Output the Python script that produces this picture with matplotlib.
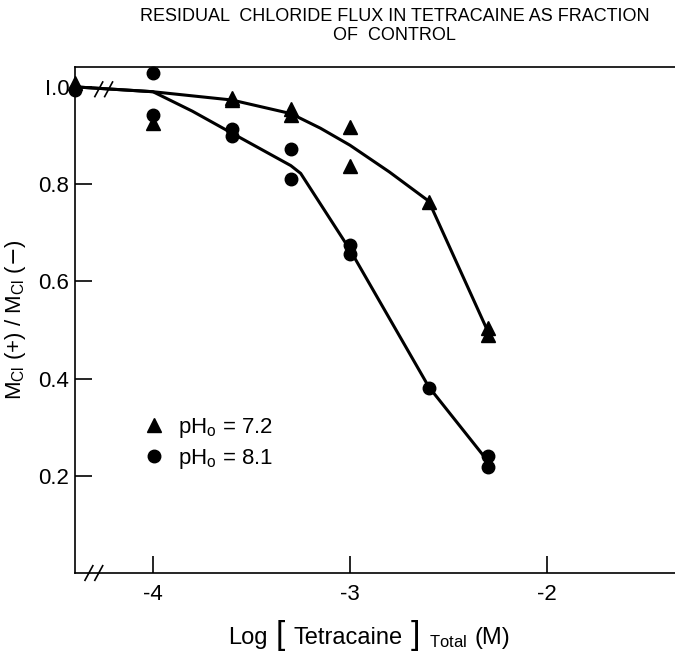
import matplotlib
matplotlib.use("Agg")
import matplotlib.pyplot as plt
from matplotlib.offsetbox import TextArea, HPacker, AnchoredOffsetbox

plt.rcParams['font.family'] = ['Liberation Sans', 'DejaVu Sans']

# measured points, log concentration vs flux fraction
tri_x = [-4.396, -4.0, -3.6, -3.6, -3.3, -3.3, -3.0, -3.0, -2.6, -2.3, -2.3]
tri_y = [1.008, 0.926, 0.978, 0.972, 0.955, 0.942, 0.918, 0.837, 0.763, 0.505, 0.489]
circ_x = [-4.396, -4.0, -4.0, -3.6, -3.6, -3.3, -3.3, -3.0, -3.0, -2.6, -2.3, -2.3]
circ_y = [0.994, 1.029, 0.942, 0.913, 0.899, 0.872, 0.810, 0.674, 0.656, 0.381, 0.241, 0.219]

# hand drawn curves through the points
tri_fit_x = [-4.396, -4.0, -3.6, -3.3, -3.15, -3.0, -2.8, -2.6, -2.3]
tri_fit_y = [1.0, 0.99, 0.973, 0.945, 0.915, 0.88, 0.825, 0.765, 0.497]
circ_fit_x = [-4.396, -4.0, -3.8, -3.6, -3.3, -3.25, -3.0, -2.6, -2.3]
circ_fit_y = [1.0, 0.99, 0.95, 0.905, 0.838, 0.822, 0.665, 0.383, 0.23]

yticks = [0.2, 0.4, 0.6, 0.8, 1.0]
ytick_labels = ["0.2", "0.4", "0.6", "0.8", "I.0"]
xticks = [-4, -3, -2]
xtick_labels = ["-4", "-3", "-2"]

fig = plt.figure(figsize=(6.75, 6.53), dpi=100)
ax = fig.add_axes([0.111, 0.1225, 0.889, 0.775])

ax.plot(tri_fit_x, tri_fit_y, color="black", lw=2.2, zorder=2)
ax.plot(circ_fit_x, circ_fit_y, color="black", lw=2.2, zorder=2)
ax.plot(tri_x, tri_y, "^", color="black", ms=10, clip_on=False, zorder=3,
        label=r"pH$_\mathregular{o}$ = 7.2")
ax.plot(circ_x, circ_y, "o", color="black", ms=9, clip_on=False, zorder=3,
        label=r"pH$_\mathregular{o}$ = 8.1")

# axis break marks
for dx in (-0.025, 0.025):
    ax.plot([-4.30 + dx - 0.02, -4.30 + dx + 0.02], [-0.015, 0.015],
            color="black", lw=1.2, clip_on=False)
    ax.plot([-4.25 + dx - 0.02, -4.25 + dx + 0.02], [0.98, 1.01],
            color="black", lw=1.2, clip_on=False)

ax.set_xlim(-4.396, -1.35)
ax.set_ylim(0.0, 1.041)
ax.spines['right'].set_visible(False)
for s in ax.spines.values():
    s.set_linewidth(1.2)

ax.set_xticks(xticks)
ax.set_xticklabels(xtick_labels)
ax.set_yticks(yticks)
ax.set_yticklabels(ytick_labels)
ax.tick_params(axis="both", direction="in", length=12, width=1.2, labelsize=16)
ax.tick_params(axis="x", pad=8)
ax.tick_params(axis="y", pad=4)

# x label with tall brackets and a lowered subscript
parts = [
    TextArea("Log", textprops=dict(fontsize=17)),
    TextArea("[", textprops=dict(fontsize=24, fontweight="light")),
    TextArea("Tetracaine", textprops=dict(fontsize=17)),
    TextArea("]", textprops=dict(fontsize=24, fontweight="light")),
    TextArea(r"$_\mathregular{Total}$", textprops=dict(fontsize=17)),
    TextArea("(M)", textprops=dict(fontsize=17)),
]
xlab = HPacker(children=parts, align="baseline", pad=0, sep=6)
fig.add_artist(AnchoredOffsetbox(loc="lower left", child=xlab, frameon=False, pad=0,
                                 borderpad=0, bbox_to_anchor=(228 / 675, 2 / 653),
                                 bbox_transform=fig.transFigure))

ax.set_ylabel(r"M$_\mathregular{Cl}$ (+) / M$_\mathregular{Cl}$ ($-$)", fontsize=16)
ax.yaxis.set_label_coords(-0.078, 0.5)

fig.text(0.585, 0.975, "RESIDUAL  CHLORIDE FLUX IN TETRACAINE AS FRACTION",
         ha="center", va="center", fontsize=13)
fig.text(0.585, 0.945, "OF  CONTROL", ha="center", va="center", fontsize=13)

ax.legend(loc="upper left", bbox_to_anchor=(0.08, 0.35), frameon=False,
          fontsize=16, handlelength=1.0, handletextpad=0.6, labelspacing=0.3)

fig.savefig("out.png", dpi=100)
